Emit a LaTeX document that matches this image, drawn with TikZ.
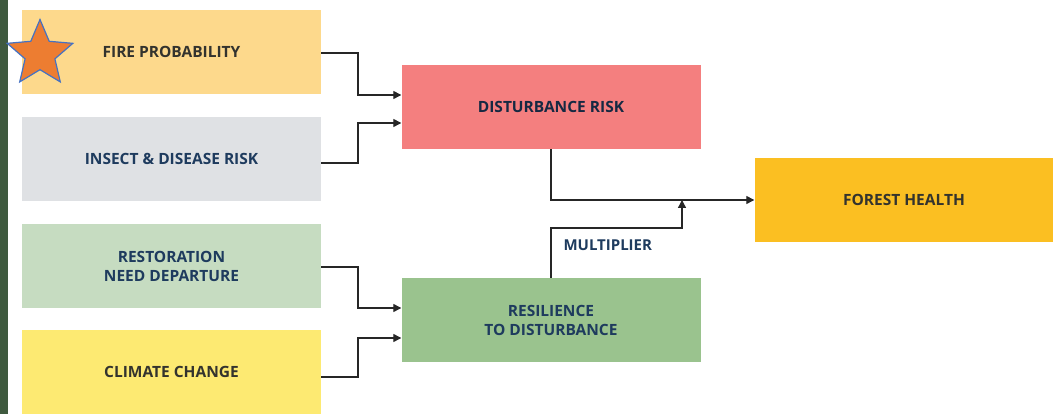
\documentclass[tikz,border=0pt]{standalone}
\usepackage{fontspec}
\setmainfont{Open Sans}
\usetikzlibrary{arrows.meta,shapes.geometric}
\definecolor{stripc}{HTML}{3F5A3F}
\definecolor{firec}{HTML}{FDD98C}
\definecolor{insectc}{HTML}{DFE1E4}
\definecolor{restc}{HTML}{C6DCC1}
\definecolor{climc}{HTML}{FDEA72}
\definecolor{distc}{HTML}{F47F7F}
\definecolor{resilc}{HTML}{9AC38E}
\definecolor{forestc}{HTML}{FBBF22}
\definecolor{bluetxt}{HTML}{1E3B5E}
\definecolor{darktxt}{HTML}{33332E}
\definecolor{starfill}{HTML}{ED7D31}
\definecolor{starline}{HTML}{4472C4}
\tikzset{
  boxc/.style={fill=#1, draw=none, minimum width=299pt, minimum height=84pt, inner sep=0pt, align=center, font=\bfseries\fontsize{15.5}{19}\selectfont},
  conn/.style={draw=black!85, line width=1.3pt, -{Triangle[length=8pt,width=8pt]}},
}
\begin{document}
\begin{tikzpicture}[x=1pt,y=-1pt]
\useasboundingbox (0,0) rectangle (1053,414);
\fill[white] (0,0) rectangle (1053,414);
\fill[stripc] (0,0) rectangle (8,414);
% boxes
\node[boxc=firec, text=darktxt] (fire) at (171.5,52) {FIRE PROBABILITY};
\node[boxc=insectc, text=bluetxt] (insect) at (171.5,159) {INSECT \& DISEASE RISK};
\node[boxc=restc, text=bluetxt] (rest) at (171.5,266) {RESTORATION\\NEED DEPARTURE};
\node[boxc=climc, text=darktxt] (clim) at (171.5,372) {CLIMATE CHANGE};
\node[boxc=distc, text=bluetxt!70!black] (dist) at (551,107) {DISTURBANCE RISK};
\node[boxc=resilc, text=bluetxt] (resil) at (551,320) {RESILIENCE\\TO DISTURBANCE};
\node[boxc=forestc, text=darktxt] (forest) at (904,200) {FOREST HEALTH};
\node[star, star points=5, star point ratio=2.2, minimum size=69pt, inner sep=0pt, fill=starfill, draw=starline, line width=1.2pt] (star) at (40,54) {};
% connectors
\draw[conn] (fire.east |- 0,53) -- (358,53) -- (358,95) -- (dist.west |- 0,95);
\draw[conn] (insect.east |- 0,163) -- (358,163) -- (358,123) -- (dist.west |- 0,123);
\draw[conn] (rest.east |- 0,267) -- (358,267) -- (358,308) -- (resil.west |- 0,308);
\draw[conn] (clim.east |- 0,377) -- (358,377) -- (358,338) -- (resil.west |- 0,338);
\draw[conn] (dist.south) -- (551,200) -- (forest.west);
\draw[conn] (resil.north) -- (551,228) -| (682,200);
\node[font=\bfseries\fontsize{15}{18}\selectfont, text=bluetxt, anchor=west] (mult) at (560,245) {MULTIPLIER};
\end{tikzpicture}
\end{document}
